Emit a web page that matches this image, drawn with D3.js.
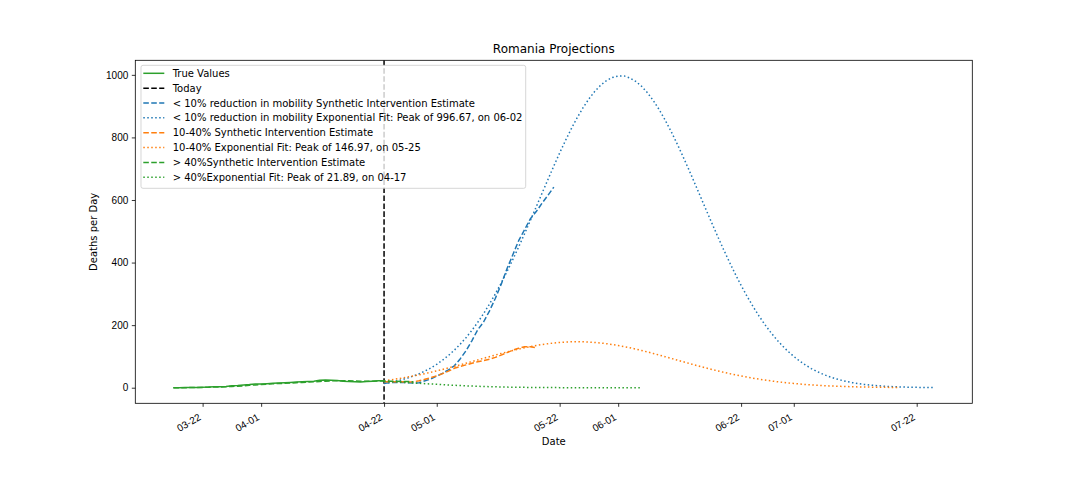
<!DOCTYPE html>
<html>
<head>
<meta charset="utf-8">
<script src="https://cdn.jsdelivr.net/npm/d3@7/dist/d3.min.js"></script>
<style>
  html, body { margin: 0; padding: 0; background: #fff; }
  svg { display: block; font-family: "DejaVu Sans", sans-serif; }
</style>
</head>
<body>
<svg id="chart" width="1080" height="504"></svg>
<script>
// ---------------- DATA ----------------
const titleText = "Romania Projections";
const xTickDates = ["2020-03-22","2020-04-01","2020-04-22","2020-05-01","2020-05-22","2020-06-01","2020-06-22","2020-07-01","2020-07-22"];
const yTickValues = [0, 200, 400, 600, 800, 1000];
const todayDate = "2020-04-22";

// True values, daily from 2020-03-17
const trueStart = "2020-03-17";
const trueValues = [0,0,0.5,1,1,1.5,2,3,3,4,6,7,9,10,12,12,13,14,15,16,17,18,19,20,21,24,25,24,23,21,20,19,18,20,21,22,22];

// < 10% reduction: synthetic intervention estimate, daily from 2020-04-22
const lowSIStart = "2020-04-22";
const lowSI = [14,16,17,17,16,15,16,22,28,37,46,57,70,92,118,150,185,210,245,285,330,380,425,470,505,540,563,590,615,641];

// < 10% reduction: exponential fit, daily from 2020-04-22
const lowFitStart = "2020-04-22";
const lowFit = [13.7,16.9,20.8,25.3,30.7,37.1,44.6,53.3,63.3,74.9,88.1,103.1,119.9,138.9,159.9,183.2,208.8,236.6,267.0,299.6,
  334.1,371.1,409.7,450.1,492.0,534.6,578.2,622.0,665.6,708.4,750.3,790.3,828.0,863.1,895.0,923.1,947.2,966.8,981.7,991.5,
  996.0,996.67,990.0,979.1,963.4,942.8,917.9,888.9,856.4,820.8,782.5,742.0,700.1,657.0,613.3,569.5,526.1,483.5,441.9,401.9,
  363.5,327.1,292.8,260.7,230.9,203.5,178.4,155.5,134.9,116.4,99.9,85.3,72.5,61.2,51.5,43.0,35.8,29.6,24.4,19.9,
  16.2,13.2,10.6,8.5,6.8,5.4,4.2,3.3,2.6,2.0,1.6,1.2,0.9,0.7,0.5];

// 10-40%: synthetic intervention estimate, daily from 2020-04-22
const midSIStart = "2020-04-22";
const midSI = [19,19,19,19,18,19,22,27,32,38,45,53,62,68,73,78,83,87,91,97,104,112,120,126,131,131,128];

// 10-40%: exponential fit, daily from 2020-04-22
const midFitStart = "2020-04-22";
const midFit = [22.0,24.6,27.5,30.6,33.9,37.4,41.2,45.2,49.4,53.8,58.4,63.2,68.1,73.1,78.3,83.5,88.8,94.0,99.2,104.4,
  109.4,114.3,119.0,123.4,127.6,131.4,134.9,138.0,140.7,142.9,144.7,145.9,146.7,146.97,146.7,145.9,144.7,142.9,140.7,138.0,
  134.9,131.4,127.6,123.4,119.0,114.3,109.4,104.4,99.2,94.0,88.8,83.5,78.3,73.1,68.1,63.2,58.4,53.8,49.4,45.2,
  41.2,37.4,33.9,30.6,27.5,24.6,22.0,19.5,17.3,15.3,13.5,11.8,10.3,9.0,7.8,6.8,5.8,5.0,4.3,3.7,
  3.1,2.6,2.2,1.9,1.6,1.3,1.1,0.9,0.8];

// > 40%: synthetic intervention estimate, daily from 2020-03-17
const highSIStart = "2020-03-17";
const highSI = [0,0,0,0.5,1,1,1.5,2,2.5,3,4,5,6,7.5,9,10.5,11.5,12.5,13.5,14,15,16,17,18,19,20,21,22,22.5,22.5,22,21.5,21,20.5,21,21.5,22,
  21,21,20,20,19];

// > 40%: exponential fit, daily from 2020-04-22
const highFitStart = "2020-04-22";
const highFit = [20.0,19.2,18.4,17.4,16.4,15.3,14.2,13.0,11.9,10.8,9.7,8.7,7.7,6.8,6.0,5.2,4.5,3.8,3.3,2.8,
  2.3,1.9,1.6,1.3,1.1,0.9,0.7,0.55,0.43,0.33,0.26,0.2,0.15,0.11,0.08,0.06,0.04,0.03,0.02,0.02,0.01,0.01,0.01,0,0];

const seriesNames = [
  "< 10% reduction in mobility Synthetic Intervention Estimate",
  "< 10% reduction in mobility Exponential Fit: Peak of 996.67, on 06-02",
  "10-40% Synthetic Intervention Estimate",
  "10-40% Exponential Fit: Peak of 146.97, on 05-25",
  "> 40%Synthetic Intervention Estimate",
  "> 40%Exponential Fit: Peak of 21.89, on 04-17"
];

// ---------------- BUILD ----------------
const parse = d3.timeParse("%Y-%m-%d");
function daily(start, vals) {
  const s = parse(start);
  return vals.map((v, i) => ({ date: d3.timeDay.offset(s, i), value: v }));
}

const C_BLUE = "#1f77b4", C_ORANGE = "#ff7f0e", C_GREEN = "#2ca02c";
const DASH = "5.55,2.4", DOT = "1.5,2.475";

const lines = [
  { name: "True Values", data: daily(trueStart, trueValues), color: C_GREEN, dash: null },
  { name: seriesNames[0], data: daily(lowSIStart, lowSI), color: C_BLUE, dash: DASH },
  { name: seriesNames[1], data: daily(lowFitStart, lowFit), color: C_BLUE, dash: DOT },
  { name: seriesNames[2], data: daily(midSIStart, midSI), color: C_ORANGE, dash: DASH },
  { name: seriesNames[3], data: daily(midFitStart, midFit), color: C_ORANGE, dash: DOT },
  { name: seriesNames[4], data: daily(highSIStart, highSI), color: C_GREEN, dash: DASH },
  { name: seriesNames[5], data: daily(highFitStart, highFit), color: C_GREEN, dash: DOT }
];

const svg = d3.select("#chart");
const W = 1080, H = 504;
const plot = { left: 135.3, right: 972.3, top: 60.3, bottom: 403.3 };

svg.append("rect").attr("width", W).attr("height", H).attr("fill", "#fff");

const allPts = lines.flatMap(l => l.data);
const xExt = d3.extent(allPts, d => d.date);
const xSpan = xExt[1] - xExt[0];
const yExt = d3.extent(allPts, d => d.value);
const ySpan = yExt[1] - yExt[0];

const x = d3.scaleTime()
  .domain([new Date(+xExt[0] - 0.05 * xSpan), new Date(+xExt[1] + 0.05 * xSpan)])
  .range([plot.left, plot.right]);
const y = d3.scaleLinear()
  .domain([yExt[0] - 0.05 * ySpan, yExt[1] + 0.05 * ySpan])
  .range([plot.bottom, plot.top]);

svg.append("clipPath").attr("id", "clip")
  .append("rect").attr("x", plot.left).attr("y", plot.top)
  .attr("width", plot.right - plot.left).attr("height", plot.bottom - plot.top);

const g = svg.append("g").attr("clip-path", "url(#clip)");
const lineGen = d3.line().x(d => x(d.date)).y(d => y(d.value));

function drawLine(l) {
  g.append("path").datum(l.data)
    .attr("d", lineGen)
    .attr("fill", "none")
    .attr("stroke", l.color)
    .attr("stroke-width", 1.5)
    .attr("stroke-dasharray", l.dash)
    .attr("stroke-linejoin", "round");
}

// drawing order: true values, today, then estimates
drawLine(lines[0]);
const tx = x(parse(todayDate));
g.append("line")
  .attr("x1", tx).attr("x2", tx).attr("y1", plot.top).attr("y2", plot.bottom)
  .attr("stroke", "#000").attr("stroke-width", 1.5).attr("stroke-dasharray", DASH);
lines.slice(1).forEach(drawLine);

// axes
const xAxis = d3.axisBottom(x)
  .tickValues(xTickDates.map(parse))
  .tickFormat(d3.timeFormat("%m-%d"))
  .tickSize(3.5).tickPadding(3.5);
const gx = svg.append("g").attr("transform", `translate(0,${plot.bottom})`).call(xAxis);
gx.select(".domain").remove();
gx.selectAll(".tick line").attr("stroke", "#000").attr("stroke-width", 0.8);
gx.selectAll(".tick text")
  .attr("font-size", 10).attr("fill", "#000")
  .attr("text-anchor", "end")
  .attr("y", 0).attr("dy", 0)
  .attr("transform", "translate(-1.5,16) rotate(-30)");

const yAxis = d3.axisLeft(y).tickValues(yTickValues).tickFormat(d3.format("d"))
  .tickSize(3.5).tickPadding(3.5);
const gy = svg.append("g").attr("transform", `translate(${plot.left},0)`).call(yAxis);
gy.select(".domain").remove();
gy.selectAll(".tick line").attr("stroke", "#000").attr("stroke-width", 0.8);
gy.selectAll(".tick text").attr("font-size", 10).attr("fill", "#000");

// spines
svg.append("rect")
  .attr("x", plot.left).attr("y", plot.top)
  .attr("width", plot.right - plot.left).attr("height", plot.bottom - plot.top)
  .attr("fill", "none").attr("stroke", "#000").attr("stroke-width", 0.8);

// labels
const cx = (plot.left + plot.right) / 2;
svg.append("text").attr("x", cx).attr("y", 53.3).attr("text-anchor", "middle")
  .attr("font-size", 12).attr("fill", "#000").text(titleText);
svg.append("text").attr("x", cx).attr("y", 445).attr("text-anchor", "middle")
  .attr("font-size", 10).attr("fill", "#000").text("Date");
svg.append("text")
  .attr("transform", `translate(96.5,${(plot.top + plot.bottom) / 2}) rotate(-90)`)
  .attr("text-anchor", "middle").attr("font-size", 10).attr("fill", "#000")
  .text("Deaths per Day");

// legend
const legendItems = [
  { name: "True Values", color: C_GREEN, dash: null },
  { name: "Today", color: "#000", dash: DASH },
  ...lines.slice(1).map(l => ({ name: l.name, color: l.color, dash: l.dash }))
];
const lg = svg.append("g");
lg.append("rect")
  .attr("x", 141).attr("y", 65.3).attr("width", 384.7).attr("height", 123)
  .attr("rx", 2).attr("ry", 2)
  .attr("fill", "#fff").attr("fill-opacity", 0.8)
  .attr("stroke", "#cccccc").attr("stroke-opacity", 0.8).attr("stroke-width", 1);
legendItems.forEach((it, i) => {
  const cy = 73.3 + i * 14.85;
  lg.append("line")
    .attr("x1", 143.3).attr("x2", 164.3).attr("y1", cy).attr("y2", cy)
    .attr("stroke", it.color).attr("stroke-width", 1.5)
    .attr("stroke-dasharray", it.dash);
  lg.append("text").attr("x", 172.7).attr("y", cy + 3.6)
    .attr("font-size", 10).attr("fill", "#000").text(it.name);
});
</script>
</body>
</html>
